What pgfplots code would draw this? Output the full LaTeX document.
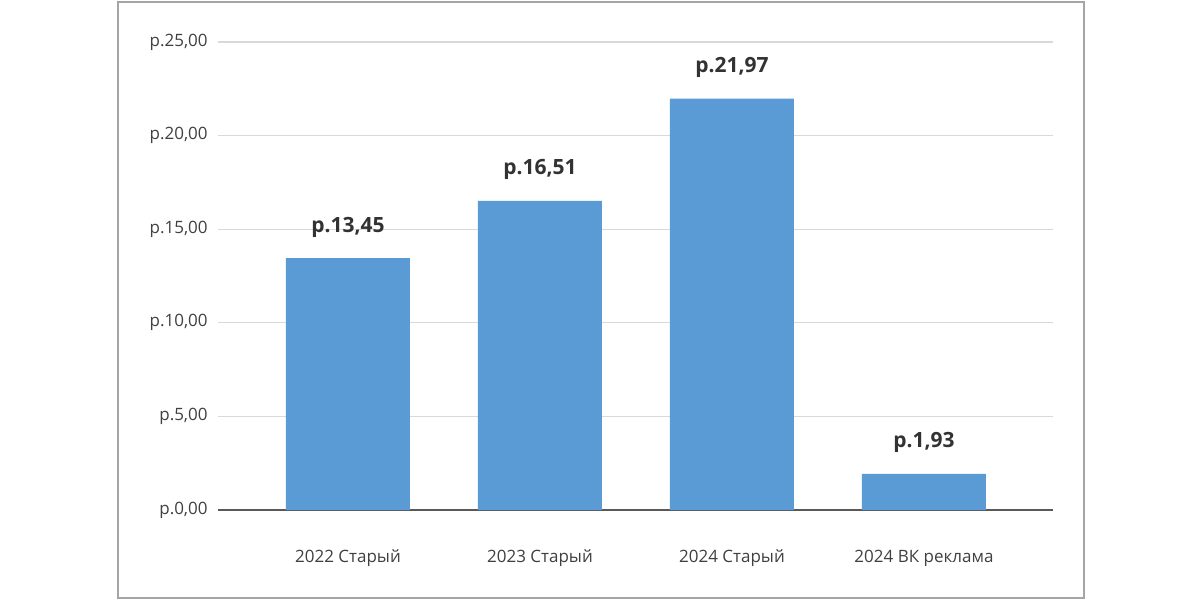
\documentclass[border=0pt]{standalone}
\usepackage{pgfplots}
\pgfplotsset{compat=1.18}
\usepackage{fontspec}
\setmainfont{Open Sans}
\definecolor{barblue}{RGB}{91,155,213}
\definecolor{gridgray}{RGB}{217,217,217}
\definecolor{axisgray}{RGB}{89,89,89}
\definecolor{txtgray}{RGB}{64,64,64}
\definecolor{lblgray}{RGB}{50,50,50}
\definecolor{framegray}{RGB}{165,165,165}
\begin{document}
\begin{tikzpicture}
\useasboundingbox (-109pt,-45pt) rectangle (491pt,255pt);
\fill[white] (-109pt,-45pt) rectangle (491pt,255pt);
\draw[framegray, line width=1pt] (-50pt,-44pt) rectangle (433pt,254pt);
\begin{axis}[
    at={(0,0)}, anchor=south west,
    scale only axis,
    width=417.5pt, height=234pt,
    xmin=-0.677, xmax=3.672,
    ymin=0, ymax=25,
    ybar, bar width=62pt,
    axis x line*=bottom,
    axis y line*=left,
    x axis line style={axisgray, line width=0.9pt},
    y axis line style={draw=none},
    major tick length=0pt,
    ymajorgrids,
    grid style={gridgray, line width=0.6pt},
    ytick={0,5,10,15,20,25},
    yticklabels={{р.0,00},{р.5,00},{р.10,00},{р.15,00},{р.20,00},{р.25,00}},
    xtick={0,1,2,3},
    xticklabels={2022 Старый, 2023 Старый, 2024 Старый, 2024 ВК реклама},
    tick label style={font=\fontsize{8.5}{10}\selectfont, text=txtgray},
    yticklabel style={anchor=east, inner sep=0pt, xshift=-5pt},
    xticklabel style={anchor=base, inner sep=0pt, yshift=-26pt},
    nodes near coords,
    point meta=explicit symbolic,
    every node near coord/.append style={anchor=base, yshift=13pt,
        font=\fontsize{10.5}{12}\selectfont\bfseries, text=lblgray},
]
% средняя стоимость по годам
\addplot[fill=barblue, draw=none] coordinates {
    (0,13.45) [р.13,45]
    (1,16.51) [р.16,51]
    (2,21.97) [р.21,97]
    (3,1.93)  [р.1,93]
};
\end{axis}
\end{tikzpicture}
\end{document}
